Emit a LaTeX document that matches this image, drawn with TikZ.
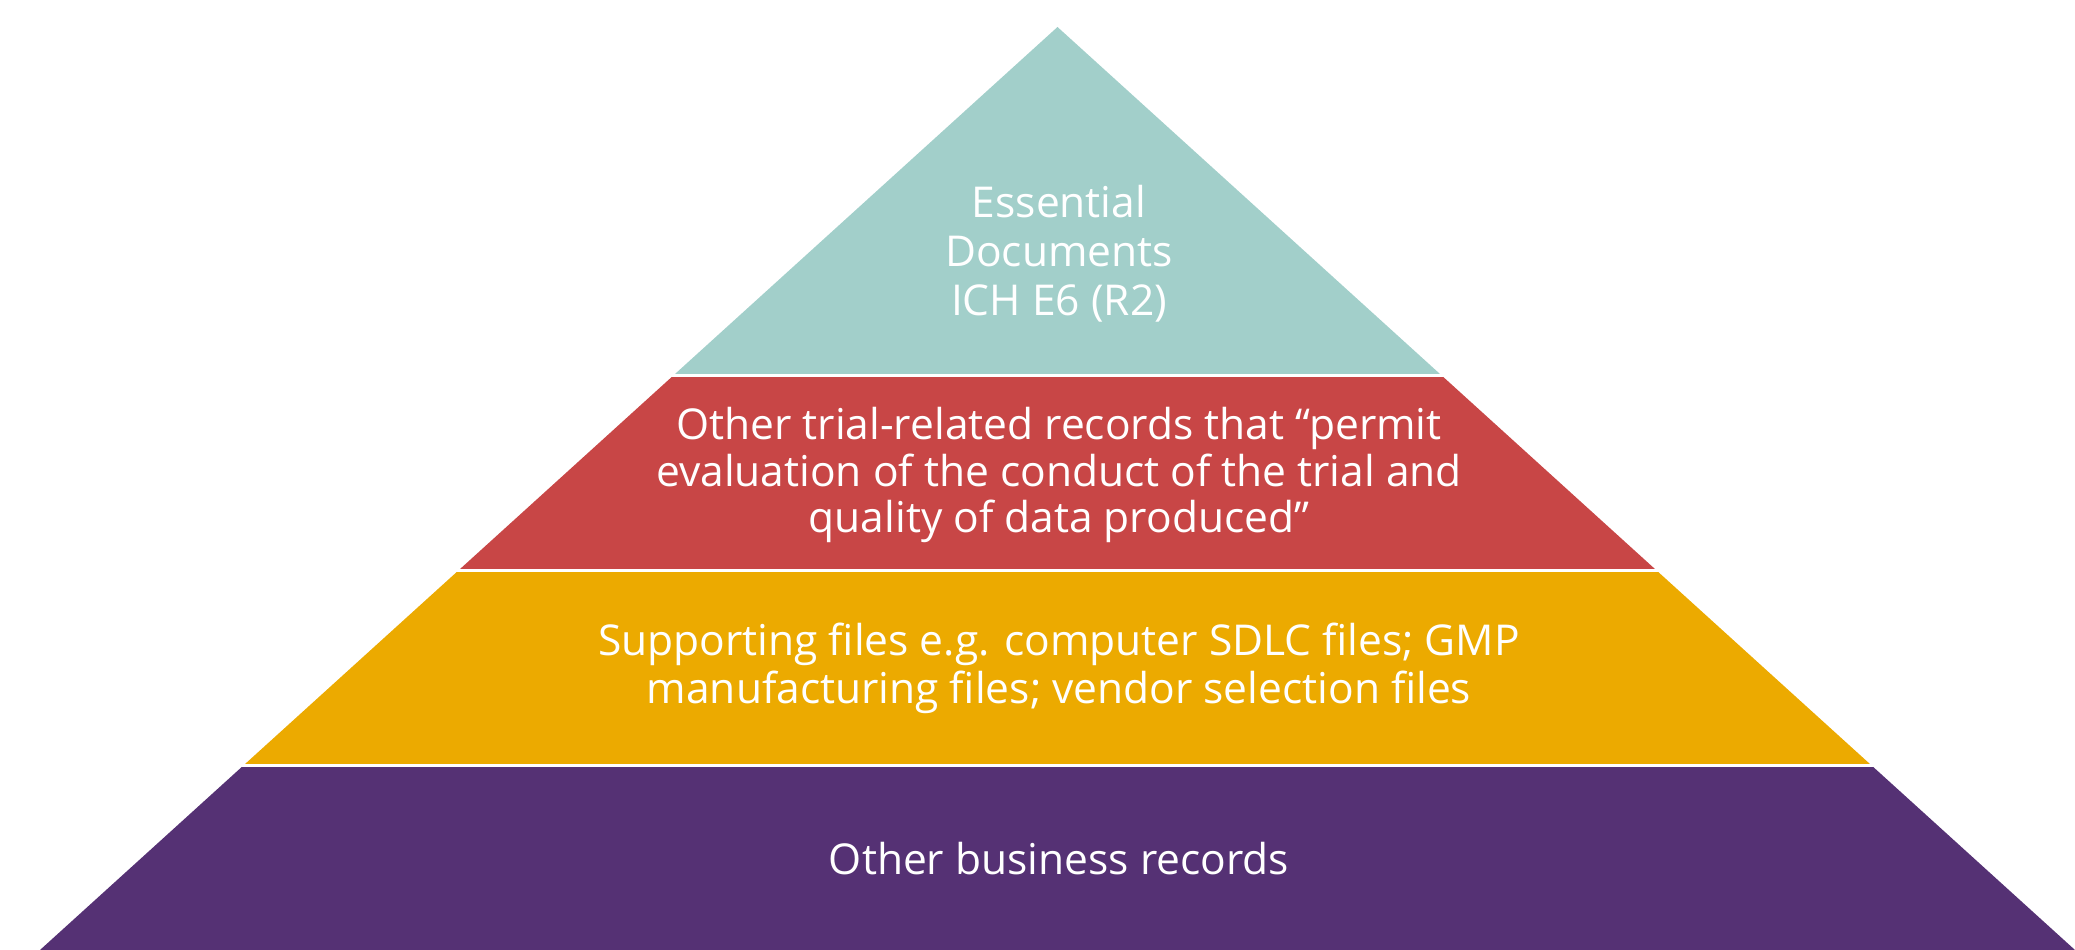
\documentclass[tikz,border=0pt]{standalone}
\usepackage{fontspec}
\setmainfont{Open Sans}
\definecolor{cteal}{HTML}{A2CFCA}
\definecolor{cred}{HTML}{C84646}
\definecolor{cyellow}{HTML}{ECAA00}
\definecolor{cpurple}{HTML}{553174}
\begin{document}
\begin{tikzpicture}[x=1pt,y=-1pt,
  lbl/.style={text=white,font=\fontsize{42.5}{48}\selectfont,anchor=base,inner sep=0pt},
  sep/.style={draw=white,line width=3pt}]
\useasboundingbox (0,0) rectangle (2075,950);
% pyramid layers
\fill[cteal] (1057.5,27) -- (1441.1,375) -- (673.9,375) -- cycle;
\fill[cred] (673.9,375) -- (1441.1,375) -- (1656.6,570.5) -- (458.4,570.5) -- cycle;
\fill[cyellow] (458.4,570.5) -- (1656.6,570.5) -- (1871.6,765.5) -- (243.4,765.5) -- cycle;
\fill[cpurple] (243.4,765.5) -- (1871.6,765.5) -- (2075,950) -- (40,950) -- cycle;
% separators
\draw[sep] (660,375) -- (1455,375);
\draw[sep] (445,570.5) -- (1670,570.5);
\draw[sep] (230,765.5) -- (1885,765.5);
% texts
\node[lbl] (t1) at (1059,217) {Essential};
\node[lbl] (t2) at (1059,266) {Documents};
\node[lbl] (t3) at (1059,315) {ICH E6 (R2)};
\node[lbl] (r1) at (1059,439) {Other trial-related records that “permit};
\node[lbl] (r2) at (1059,486) {evaluation of the conduct of the trial and};
\node[lbl] (r3) at (1059,532) {quality of data produced”};
\node[lbl] (y1) at (1059,655) {Supporting files e.g. computer SDLC files; GMP};
\node[lbl] (y2) at (1059,703) {manufacturing files; vendor selection files};
\node[lbl] (p1) at (1059,874) {Other business records};
\end{tikzpicture}
\end{document}
